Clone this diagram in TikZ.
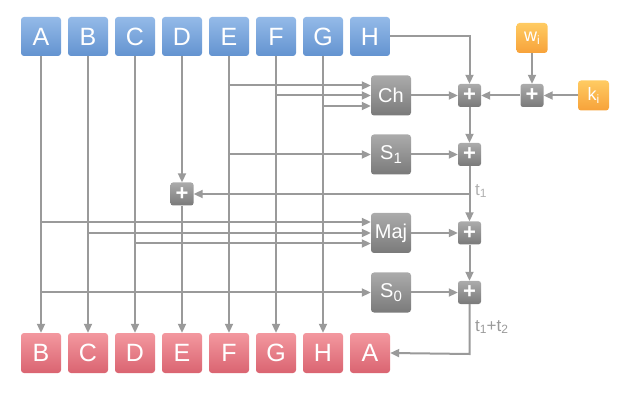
\documentclass[tikz,border=0pt]{standalone}
\usepackage{fontspec}
\setmainfont{Liberation Sans}
\usetikzlibrary{arrows.meta,calc}
\definecolor{lin}{HTML}{9A9A9A}
\definecolor{bluet}{HTML}{94BAE8}
\definecolor{blueb}{HTML}{6393D0}
\definecolor{redt}{HTML}{F3989F}
\definecolor{redb}{HTML}{DA6471}
\definecolor{grayt}{HTML}{ABABAB}
\definecolor{grayb}{HTML}{7A7A7A}
\definecolor{orat}{HTML}{FFCB62}
\definecolor{orab}{HTML}{F7A23A}
\definecolor{lab}{HTML}{B0B0B0}
\tikzset{
  reg/.style={minimum width=40pt,minimum height=39pt,rounded corners=3pt,inner sep=0pt,text=white,font=\fontsize{25}{25}\selectfont},
  topreg/.style={reg,top color=bluet,bottom color=blueb},
  botreg/.style={reg,minimum height=40pt,top color=redt,bottom color=redb},
  fun/.style={minimum width=40pt,minimum height=40pt,rounded corners=3pt,inner sep=0pt,text=white,top color=grayt,bottom color=grayb,font=\fontsize{20}{20}\selectfont},
  plusbox/.style={minimum width=23pt,minimum height=23pt,rounded corners=2.5pt,inner sep=0pt,text=white,top color=grayt,bottom color=grayb,font=\fontsize{22}{22}\selectfont\bfseries},
  inbox/.style={minimum width=31pt,minimum height=30pt,rounded corners=3pt,inner sep=0pt,text=white,top color=orat,bottom color=orab,font=\fontsize{18}{18}\selectfont},
  wire/.style={draw=lin,line width=2pt},
  arr/.style={wire,-{Triangle[length=9pt,width=8pt]}},
  lbl/.style={text=lab,font=\fontsize{17}{17}\selectfont,inner sep=0pt,anchor=west}
}
\begin{document}
\begin{tikzpicture}[x=1pt,y=-1pt]
\useasboundingbox (0,0) rectangle (622,401);
% top registers
\foreach \n/\l [count=\i from 0] in {tA/A,tB/B,tC/C,tD/D,tE/E,tF/F,tG/G,tH/H}
  \node[topreg] (\n) at (41+47*\i,36.5) {\l};
% bottom registers
\foreach \n/\l [count=\i from 0] in {bB/B,bC/C,bD/D,bE/E,bF/F,bG/G,bH/H,bA/A}
  \node[botreg] (\n) at (41+47*\i,353) {\l};
% functions
\node[fun] (ch) at (391,95.5) {Ch};
\node[fun] (s1) at (391,154.5) {S\raisebox{-0.35ex}{\fontsize{15}{15}\selectfont 1}};
\node[fun] (maj) at (391,233) {Maj};
\node[fun] (s0) at (391,292.5) {S\raisebox{-0.35ex}{\fontsize{15}{15}\selectfont 0}};
% adders
\node[plusbox] (p1) at (469.5,95.5) {+};
\node[plusbox] (p2) at (532,95.5) {+};
\node[plusbox] (p3) at (469.5,154.5) {+};
\node[plusbox] (p4) at (469.5,233) {+};
\node[plusbox] (p5) at (469.5,292.5) {+};
\node[plusbox] (pd) at (182,194) {+};
% inputs
\node[inbox] (w) at (532,38) {w\raisebox{-0.3ex}{\fontsize{12}{12}\selectfont i}};
\node[inbox] (k) at (593.5,95.5) {k\raisebox{-0.3ex}{\fontsize{12}{12}\selectfont i}};
% coordinates
\coordinate (chi1) at ($(ch.west)+(0,-10)$);
\coordinate (chi2) at (ch.west);
\coordinate (chi3) at ($(ch.west)+(0,10.5)$);
\coordinate (mji1) at ($(maj.west)+(0,-11)$);
\coordinate (mji2) at ($(maj.west)+(0,0)$);
\coordinate (mji3) at ($(maj.west)+(0,10.5)$);
\coordinate (hc) at (p1 |- tH.east);
\coordinate (t1) at (469.5,194);
\coordinate (t12) at (469.5,354);
% vertical pass-through wires
\draw[arr] (tA) -- (bB);
\draw[arr] (tB) -- (bC);
\draw[arr] (tC) -- (bD);
\draw[arr] (tD) -- (pd);
\draw[arr] (pd) -- (bE);
\draw[arr] (tE) -- (bF);
\draw[arr] (tF) -- (bG);
\draw[arr] (tG) -- (bH);
% feeds into Ch
\draw[arr] (tE |- chi1) -- (chi1);
\draw[arr] (tF |- chi2) -- (chi2);
\draw[arr] (tG |- chi3) -- (chi3);
% feed into S1
\draw[arr] (tE |- s1.west) -- (s1.west);
% feeds into Maj
\draw[arr] (tA |- mji1) -- (mji1);
\draw[arr] (tB |- mji2) -- (mji2);
\draw[arr] (tC |- mji3) -- (mji3);
% feed into S0
\draw[arr] (tA |- s0.west) -- (s0.west);
% H path
\draw[arr] (tH.east) -- (hc) -- (p1.north);
\draw[arr] (ch.east) -- (p1.west);
\draw[arr] (p2.west) -- (p1.east);
\draw[arr] (w.south) -- (p2.north);
\draw[arr] (k.west) -- (p2.east);
\draw[arr] (p1.south) -- (p3.north);
\draw[arr] (s1.east) -- (p3.west);
\draw[arr] (p3.south) -- (p4.north);
\draw[arr] (t1) -- (pd.east);
\draw[arr] (maj.east) -- (p4.west);
\draw[arr] (p4.south) -- (p5.north);
\draw[arr] (s0.east) -- (p5.west);
\draw[arr] (p5.south) -- (t12) -- (bA.east);
% labels
\node[lbl] (lt1) at (475,191) {t\raisebox{-0.2ex}{\fontsize{12}{12}\selectfont 1}};
\node[lbl,text=lin] (lt12) at (475,327) {t\raisebox{-0.2ex}{\fontsize{12}{12}\selectfont 1}+t\raisebox{-0.2ex}{\fontsize{12}{12}\selectfont 2}};
\end{tikzpicture}
\end{document}
